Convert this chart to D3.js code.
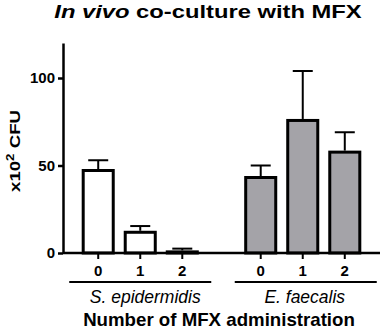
<!DOCTYPE html>
<html lang="en">
<head>
<meta charset="UTF-8">
<title>In vivo co-culture with MFX</title>
<script src="https://d3js.org/d3.v7.min.js"></script>
<style>
  body { margin: 0; background: #fff; }
  text { font-family: "Liberation Sans", Arial, sans-serif; fill: #000; }
</style>
</head>
<body>
<svg id="chart" width="383" height="331"></svg>
<script>
// data
var groups = ["S. epidermidis", "E. faecalis"];
var doses = ["0", "1", "2"];
var sEpiMean = [48, 12.7, 1.5];
var sEpiErr = [5, 2.7, 1];
var eFaeMean = [44, 76.6, 58.5];
var eFaeErr = [6, 27.4, 10.5];
var yTicks = [0, 50, 100];

var fills = { "S. epidermidis": "#ffffff", "E. faecalis": "#a4a3a8" };

var rows = [];
doses.forEach(function (d, i) {
    rows.push({ group: groups[0], dose: d, mean: sEpiMean[i], err: sEpiErr[i] });
});
doses.forEach(function (d, i) {
    rows.push({ group: groups[1], dose: d, mean: eFaeMean[i], err: eFaeErr[i] });
});

var svg = d3.select("#chart");

// the figure's lettering is wider than Arial, so stretch text along its baseline to fit
function fit(sel, cx, cy, width, rot) {
    var w = sel.node().getBBox().width;
    sel.attr("x", 0).attr("y", 0)
        .attr("transform", "translate(" + cx + "," + cy + ")" + (rot ? " rotate(" + rot + ")" : "") +
            " scale(" + (width / w) + ",1)");
}

var y = d3.scaleLinear().domain([0, 120]).range([253, 43]);
var x0 = d3.scaleBand().domain(groups).range([59, 384]).padding(0);
var x1 = d3.scaleBand().domain(doses).range([0, x0.bandwidth()])
    .paddingInner(0.214).paddingOuter(0.54);

// title
var title = svg.append("text")
    .attr("text-anchor", "middle")
    .style("font-size", "19px").style("font-weight", "bold");
title.append("tspan").style("font-style", "italic").text("In vivo");
title.append("tspan").text(" co-culture with MFX");
fit(title, 208, 18, 308);

// y axis
var yAxis = svg.append("g")
    .attr("transform", "translate(63,0)")
    .call(d3.axisLeft(y).tickValues(yTicks).tickSize(5).tickSizeOuter(0).tickPadding(3));
yAxis.select(".domain").attr("stroke-width", 2.5);
yAxis.selectAll(".tick line").attr("stroke-width", 2.5);
yAxis.selectAll(".tick text")
    .style("font-size", "15px").style("font-weight", "bold")
    .style("font-family", "'Liberation Sans', Arial, sans-serif");

var yl = svg.append("text")
    .attr("text-anchor", "middle")
    .style("font-size", "14px").style("font-weight", "bold");
yl.append("tspan").text("x10");
yl.append("tspan").attr("dy", -6).style("font-size", "10px").text("2");
yl.append("tspan").attr("dy", 6).text(" CFU");
fit(yl, 20, 151, 82, -90);

// bars
var bar = svg.append("g").selectAll("g")
    .data(rows).enter().append("g")
    .attr("transform", function (d) { return "translate(" + (x0(d.group) + x1(d.dose)) + ",0)"; });

var bw = x1.bandwidth();

// error bars (drawn under the boxes)
bar.append("line")
    .attr("x1", bw / 2).attr("x2", bw / 2)
    .attr("y1", function (d) { return y(d.mean); })
    .attr("y2", function (d) { return y(d.mean + d.err); })
    .attr("stroke", "#000").attr("stroke-width", 2);
bar.append("line")
    .attr("x1", bw / 2 - 10).attr("x2", bw / 2 + 10)
    .attr("y1", function (d) { return y(d.mean + d.err); })
    .attr("y2", function (d) { return y(d.mean + d.err); })
    .attr("stroke", "#000").attr("stroke-width", 2);

bar.append("rect")
    .attr("x", 1.5)
    .attr("width", bw - 3)
    .attr("y", function (d) { return y(d.mean) + 1.5; })
    .attr("height", function (d) { return Math.max(0, y(0) - y(d.mean) - 1.5); })
    .attr("fill", function (d) { return fills[d.group]; })
    .attr("stroke", "#000").attr("stroke-width", 3);

// x axis line
svg.append("line")
    .attr("x1", 63).attr("x2", 380)
    .attr("y1", y(0)).attr("y2", y(0))
    .attr("stroke", "#000").attr("stroke-width", 2.5);

// per group ticks, underline and label
groups.forEach(function (g, i) {
    var gx = svg.append("g")
        .attr("transform", "translate(" + x0(g) + "," + (y(0) + 1) + ")")
        .call(d3.axisBottom(x1).tickSize(5).tickSizeOuter(0).tickPadding(6));
    gx.select(".domain").remove();
    gx.selectAll(".tick line").attr("stroke-width", 2);
    gx.selectAll(".tick text")
        .style("font-size", "15px").style("font-weight", "bold")
        .style("font-family", "'Liberation Sans', Arial, sans-serif");

    var cx = x0(g) + x0.bandwidth() / 2 + (i === 0 ? 0 : 3);
    svg.append("line")
        .attr("x1", cx - 71).attr("x2", cx + 71)
        .attr("y1", 282).attr("y2", 282)
        .attr("stroke", "#000").attr("stroke-width", 2);
    svg.append("text")
        .attr("x", cx + (i === 0 ? 5 : -1)).attr("y", 303)
        .attr("text-anchor", "middle")
        .style("font-size", "17.5px").style("font-style", "italic")
        .text(g);
});

var xl = svg.append("text")
    .attr("text-anchor", "middle")
    .style("font-size", "18px").style("font-weight", "bold")
    .text("Number of MFX administration");
fit(xl, 219, 326, 272);
</script>
</body>
</html>
